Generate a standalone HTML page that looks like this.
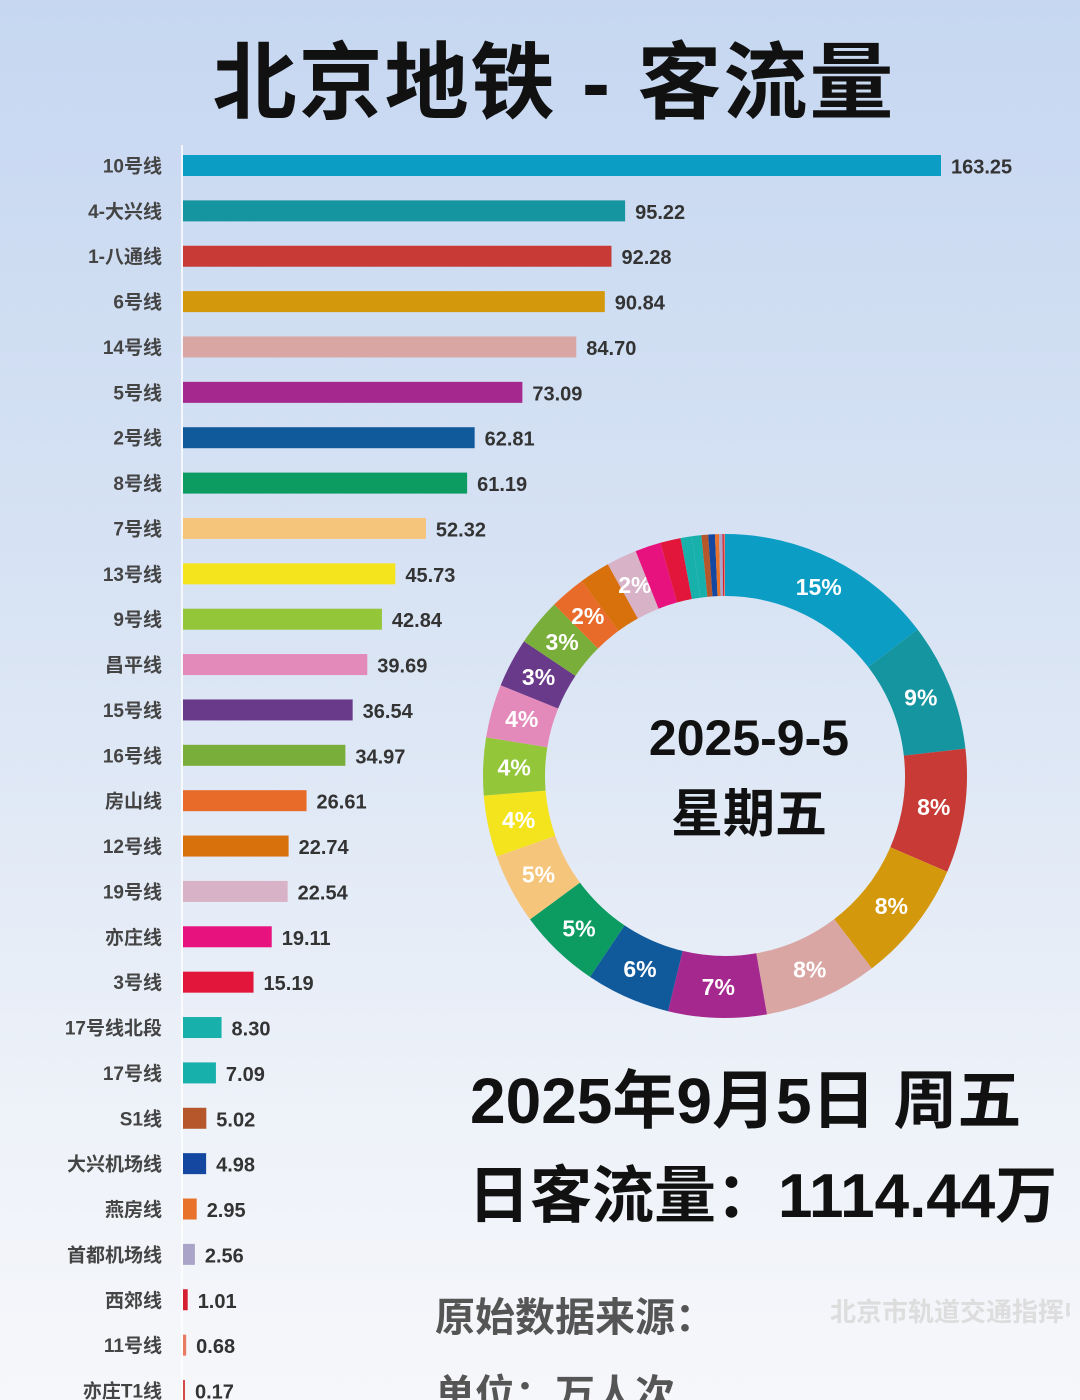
<!DOCTYPE html>
<html><head><meta charset="utf-8">
<style>
html,body{margin:0;padding:0;width:1080px;height:1400px;overflow:hidden}
body{background:linear-gradient(180deg,#c6d7f1 0%,#d9e4f4 45%,#eef2f9 80%,#f6f7fa 100%);font-family:"Liberation Sans","Noto Sans CJK SC",sans-serif;position:relative}
.t{position:absolute;font-weight:bold;color:#111;white-space:nowrap}
</style></head><body>
<div class="t" style="left:0;width:1108px;text-align:center;top:16px;font-size:84px;letter-spacing:2px">北京地铁 - 客流量</div>
<svg id="c" width="1080" height="1400" style="position:absolute;left:0;top:0"></svg>
<div class="t" style="left:470px;top:1050px;font-size:64px">2025年9月5日 周五</div>
<div class="t" style="left:468px;top:1145px;font-size:62px">日客流量：1114.44万</div>
<div class="t" style="left:435px;top:1285px;font-size:40px;color:#555">原始数据来源：</div>
<div class="t" style="left:830px;top:1292px;width:240px;overflow:hidden;font-size:26px;color:#ddd">北京市轨道交通指挥中心</div>
<div class="t" style="left:435px;top:1362px;font-size:40px;color:#555">单位：万人次</div>
<script>
const categories=["10号线","4-大兴线","1-八通线","6号线","14号线","5号线","2号线","8号线","7号线","13号线","9号线","昌平线","15号线","16号线","房山线","12号线","19号线","亦庄线","3号线","17号线北段","17号线","S1线","大兴机场线","燕房线","首都机场线","西郊线","11号线","亦庄T1线"];
const values=[163.25,95.22,92.28,90.84,84.70,73.09,62.81,61.19,52.32,45.73,42.84,39.69,36.54,34.97,26.61,22.74,22.54,19.11,15.19,8.30,7.09,5.02,4.98,2.95,2.56,1.01,0.68,0.17];
const colors=["#0b9dc4","#14959f","#c73a36","#d4980c","#d9a6a3","#a5288f","#10599a","#0c9c62","#f6c57c","#f4e41e","#94c63a","#e48aba","#6a3a8a","#7aae3a","#e86b2a","#d8700c","#d8b2c7","#e8127e","#e2163a","#18b0ab","#18b0ab","#b5572a","#1448a0","#e8722a","#aaa4c8","#d42030","#e87a60","#d44848"];
const svg=document.getElementById('c');const NS='http://www.w3.org/2000/svg';
function mk(t,a){const e=document.createElementNS(NS,t);for(const k in a)e.setAttribute(k,a[k]);svg.appendChild(e);return e;}
const x0=183,sx=(941-183)/163.25,y0=165.5,dy=45.37,bh=21;
const xS=v=>v*sx, yS=i=>y0+i*dy;
let ax=mk('line',{x1:182,y1:145,x2:182,y2:1400,stroke:'#fff','stroke-width':1.5});

categories.forEach((c,i)=>{
 const y=yS(i);
 const l=mk('text',{x:162,y:y+7,'text-anchor':'end','font-size':19,'font-weight':'bold',fill:'#444'});l.textContent=c;
 
 const r=mk('rect',{x:x0,y:y-bh/2,width:Math.max(xS(values[i]),2),height:bh,fill:colors[i]});
 
 const v=mk('text',{x:x0+Math.max(xS(values[i]),2)+10,y:y+8,'font-size':20,'font-weight':'bold',fill:'#333'});v.textContent=values[i].toFixed(2);
 
});
const cx=725,cy=776,ro=242,ri=180;const total=values.reduce((a,b)=>a+b,0);
let a0=0;
function pt(r,a){return [cx+r*Math.sin(a),cy-r*Math.cos(a)];}
values.forEach((v,i)=>{
 const a1=a0+v/total*2*Math.PI;const big=a1-a0>Math.PI?1:0;
 const p1=pt(ro,a0),p2=pt(ro,a1),p3=pt(ri,a1),p4=pt(ri,a0);
 const p=mk('path',{d:`M${p1}A${ro},${ro} 0 ${big} 1 ${p2}L${p3}A${ri},${ri} 0 ${big} 0 ${p4}Z`,fill:colors[i]});
 
 if(v>=20 && i!==15){const m=pt((ro+ri)/2,(a0+a1)/2);
  const t=mk('text',{x:m[0],y:m[1]+8,'text-anchor':'middle','font-size':23,'font-weight':'bold',fill:'#fff'});t.textContent=Math.round(v/total*100)+'%';
  }
 a0=a1;
});
const d1=mk('text',{x:cx+24,y:755,'text-anchor':'middle','font-size':50,'font-weight':'bold',fill:'#111'});d1.textContent='2025-9-5';

const d2=mk('text',{x:cx+24,y:832,'text-anchor':'middle','font-size':52,'font-weight':'bold',fill:'#111'});d2.textContent='星期五';

</script>
</body></html>
